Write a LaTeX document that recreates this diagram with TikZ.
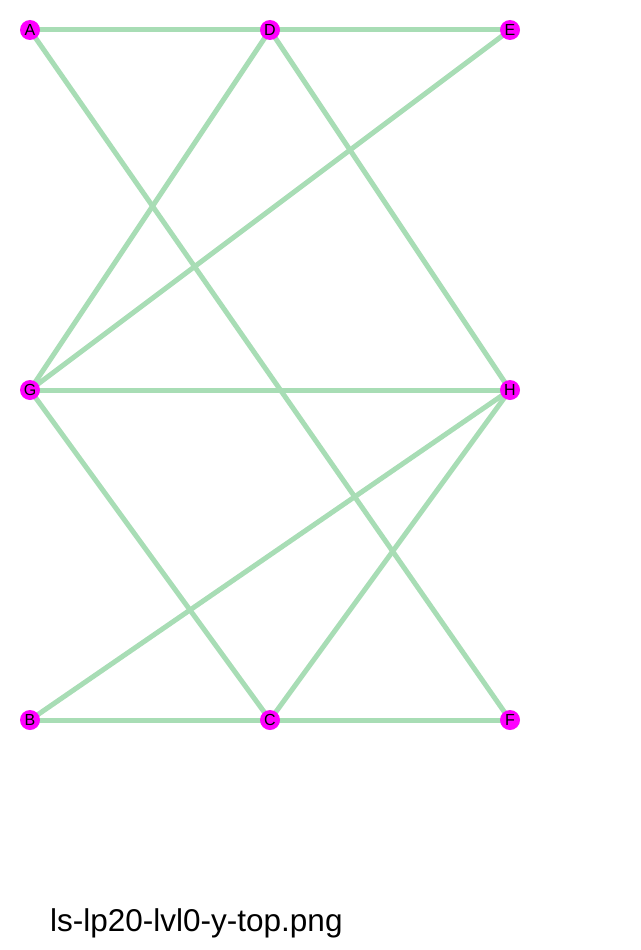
\documentclass[tikz,border=0pt]{standalone}
\usepackage{fontspec}
\setmainfont{Liberation Sans}
\usetikzlibrary{backgrounds}
\definecolor{nodemag}{RGB}{255,0,255}
\definecolor{edgegreen}{RGB}{168,221,181}
\begin{document}
\begin{tikzpicture}[x=1pt,y=-1pt,
  vtx/.style={circle,fill=nodemag,inner sep=0pt,minimum size=20pt,font=\fontsize{16}{16}\selectfont},
  edge/.style={draw=edgegreen,line width=5pt}]
\useasboundingbox (0,0) rectangle (640,950);
\node[vtx] (A) at (30,30) {A};
\node[vtx] (D) at (270,30) {D};
\node[vtx] (E) at (510,30) {E};
\node[vtx] (G) at (30,390) {G};
\node[vtx] (H) at (510,390) {H};
\node[vtx] (B) at (30,720) {B};
\node[vtx] (C) at (270,720) {C};
\node[vtx] (F) at (510,720) {F};
\begin{scope}[on background layer]
\foreach \u/\v in {A/D,D/E,A/F,D/G,D/H,E/G,G/H,G/C,H/B,H/C,B/C,C/F}
  \draw[edge] (\u.center) -- (\v.center);
\end{scope}
\node[anchor=base west,inner sep=0pt,font=\fontsize{31.5}{31.5}\selectfont] (cap) at (50,931) {ls-lp20-lvl0-y-top.png};
\end{tikzpicture}
\end{document}
